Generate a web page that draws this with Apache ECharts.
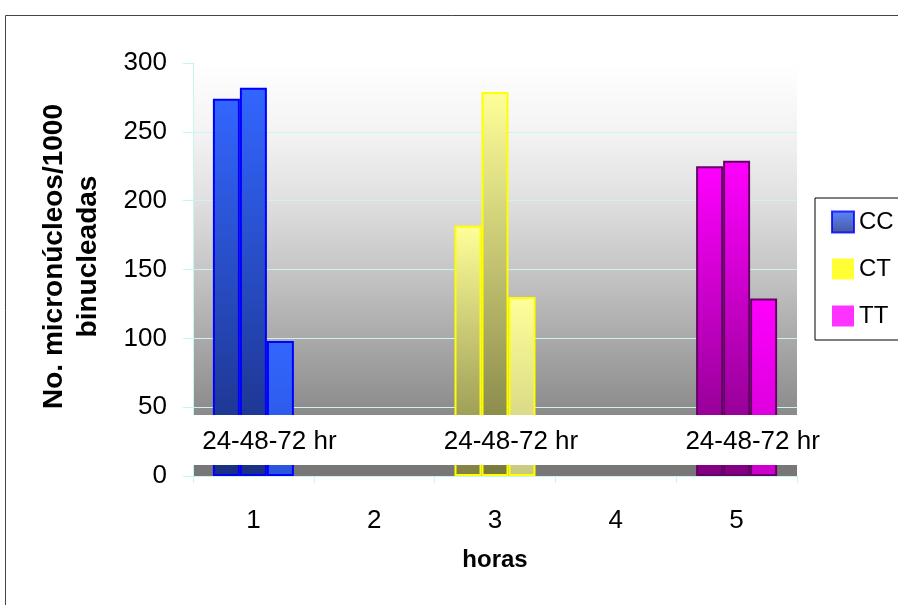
<!DOCTYPE html>
<html>
<head>
<meta charset="utf-8">
<script src="https://cdn.jsdelivr.net/npm/echarts@6/dist/echarts.min.js"></script>
<style>html,body{margin:0;padding:0;background:#fff;}#c{width:898px;height:605px;}</style>
</head>
<body>
<div id="c"></div>
<script>
// ---- data ----
const categories = ['1', '2', '3', '4', '5'];
const groupOf = ['CC', null, 'CT', null, 'TT'];
const h24 = [274, null, 182, null, 225];
const h48 = [282, null, 279, null, 229];
const h72 = [98, null, 130, null, 129];
const legendNames = ['CC', 'CT', 'TT'];
const groupLabel = '24-48-72 hr';
const yMin = 0, yMax = 300, yInterval = 50;

// ---- styles ----
const FONT = 'Arial, "Liberation Sans", sans-serif';
const CYAN = '#c8f4f4';
const palettes = {
  CC: { top: '#3366ff', bottom: ['#1a2f80', '#1a2f80', '#2a55dd'], border: '#0000ff', legend: '#2a50d8' },
  CT: { top: '#ffff99', bottom: ['#808044', '#777740', '#c8c880'], border: '#ffff00', legend: '#ffff00' },
  TT: { top: '#ff00ff', bottom: ['#800080', '#800080', '#cc00cc'], border: '#660066', legend: '#ff00ff' }
};
function grad(a, b) {
  return new echarts.graphic.LinearGradient(0, 0, 0, 1, [{ offset: 0, color: a }, { offset: 1, color: b }]);
}
function makeData(vals, idx) {
  return vals.map((v, i) => {
    if (v == null) return '-';
    const p = palettes[groupOf[i]];
    return { value: v, itemStyle: { color: grad(p.top, p.bottom[idx]), borderColor: p.border, borderWidth: 2 } };
  });
}
const gridLeft = 193, gridRight = 101, gridTop = 63, gridBottom = 129;
const bandTopVal = 44.3, bandBottomVal = 8.0, labelVal = 25;

const chart = echarts.init(document.getElementById('c'), null, { renderer: 'canvas' });
const barBase = { type: 'bar', barWidth: 27, barGap: '0%', z: 3 };
const option = {
  animation: false,
  backgroundColor: '#ffffff',
  textStyle: { fontFamily: FONT },
  grid: {
    left: gridLeft, right: gridRight, top: gridTop, bottom: gridBottom,
    show: true, borderWidth: 0,
    backgroundColor: new echarts.graphic.LinearGradient(0, 0, 0, 1, [
      { offset: 0, color: '#ffffff' },
      { offset: 0.03, color: '#fdfdfd' },
      { offset: 0.17, color: '#f3f3f3' },
      { offset: 0.33, color: '#e0e0e0' },
      { offset: 0.5, color: '#c6c6c6' },
      { offset: 0.67, color: '#a9a9a9' },
      { offset: 0.83, color: '#8e8e8e' },
      { offset: 0.852, color: '#8a8a8a' },
      { offset: 0.852, color: '#ffffff' },
      { offset: 0.972, color: '#ffffff' },
      { offset: 0.972, color: '#777777' },
      { offset: 1, color: '#777777' }
    ])
  },
  legend: {
    orient: 'vertical', left: 815, top: 198,
    itemWidth: 22, itemHeight: 21, itemGap: 23,
    padding: [12, 40, 12, 16],
    borderColor: '#000', borderWidth: 1,
    icon: 'rect',
    textStyle: { fontSize: 24, color: '#000', fontFamily: FONT },
    data: [
      { name: 'CC', itemStyle: { color: grad('#3366ff', '#1a2f80'), borderColor: '#0000ff', borderWidth: 2 } },
      { name: 'CT', itemStyle: { color: '#ffff00' } },
      { name: 'TT', itemStyle: { color: '#ff00ff' } }
    ]
  },
  xAxis: {
    type: 'category', data: categories, boundaryGap: true,
    axisLine: { show: true, lineStyle: { color: CYAN, width: 1 } },
    axisTick: { show: true, length: 7, lineStyle: { color: CYAN } },
    axisLabel: { fontSize: 26, color: '#000', margin: 32, fontFamily: FONT },
    splitLine: { show: false },
    name: 'horas', nameLocation: 'middle', nameGap: 72,
    nameTextStyle: { fontSize: 24, fontWeight: 'bold', color: '#000', fontFamily: FONT }
  },
  yAxis: {
    type: 'value', min: yMin, max: yMax, interval: yInterval,
    axisLine: { show: true, lineStyle: { color: CYAN, width: 1 } },
    axisTick: { show: true, length: 10, lineStyle: { color: CYAN } },
    axisLabel: { fontSize: 26, color: '#000', margin: 26, fontFamily: FONT },
    splitLine: { show: true, lineStyle: { color: [CYAN, CYAN, CYAN, CYAN, CYAN, CYAN, 'rgba(0,0,0,0)'], width: 1 } },
    name: 'No. micronúcleos/1000\nbinucleadas', nameLocation: 'middle', nameGap: 88,
    nameTextStyle: { fontSize: 28, fontWeight: 'bold', color: '#000', lineHeight: 34, fontFamily: FONT, padding: [0, 0, 0, 26] }
  },
  series: [
    Object.assign({ name: '24 hr', data: makeData(h24, 0) }, barBase),
    Object.assign({ name: '48 hr', data: makeData(h48, 1) }, barBase),
    Object.assign({ name: '72 hr', data: makeData(h72, 2) }, barBase),
    { name: legendNames[0], type: 'scatter', data: [], itemStyle: { color: palettes.CC.legend } },
    { name: legendNames[1], type: 'scatter', data: [], itemStyle: { color: palettes.CT.legend } },
    { name: legendNames[2], type: 'scatter', data: [], itemStyle: { color: palettes.TT.legend } }
  ]
};
chart.setOption(option);

// decorations positioned through the chart's own scales
const yTop = chart.convertToPixel({ yAxisIndex: 0 }, bandTopVal);
const yBot = chart.convertToPixel({ yAxisIndex: 0 }, bandBottomVal);
const yLab = chart.convertToPixel({ yAxisIndex: 0 }, labelVal);
const graphics = [
  { type: 'rect', z: 50, silent: true,
    shape: { x: gridLeft, y: yTop, width: 898 - gridLeft - gridRight, height: yBot - yTop },
    style: { fill: '#ffffff' } },
  { type: 'rect', z: 60, silent: true,
    shape: { x: 5.5, y: 15.5, width: 1000, height: 1000 },
    style: { fill: 'none', stroke: '#444444', lineWidth: 1 } }
];
categories.forEach((c, i) => {
  if (!groupOf[i]) return;
  const x = chart.convertToPixel({ xAxisIndex: 0 }, c);
  graphics.push({
    type: 'text', z: 55, silent: true, x: x + 16, y: yLab,
    style: { text: groupLabel, fontSize: 26, fill: '#000', align: 'center', verticalAlign: 'middle', fontFamily: FONT }
  });
});
chart.setOption({ graphic: graphics });
</script>
</body>
</html>
